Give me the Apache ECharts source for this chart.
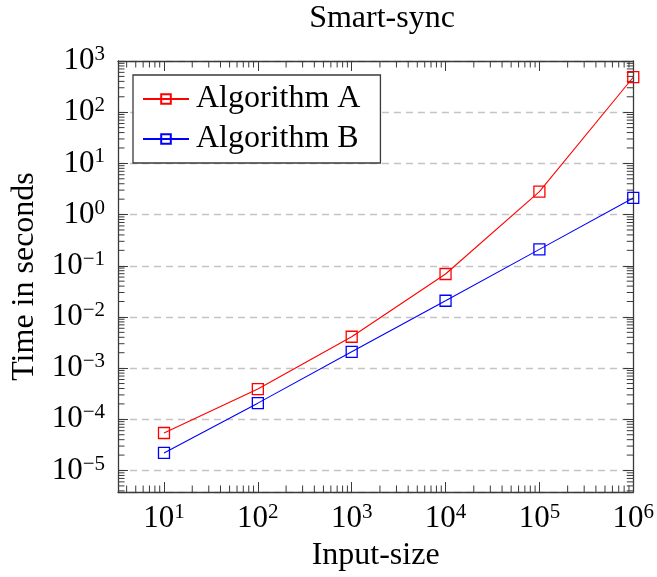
<!DOCTYPE html>
<html>
<head>
<meta charset="utf-8">
<script src="https://cdn.jsdelivr.net/npm/echarts@6/dist/echarts.min.js"></script>
<style>
  html, body { margin: 0; padding: 0; background: #fff; }
  #chart { width: 657px; height: 577px; }
</style>
</head>
<body>
<div id="chart"></div>
<script>
// Input sizes (x) and measured run times in seconds (y)
const inputSizes = [10, 100, 1000, 10000, 100000, 1000000];
const timesA = [5.4e-5, 3.9e-4, 4.1e-3, 0.069, 2.8, 482];
const timesB = [2.2e-5, 2.07e-4, 2.08e-3, 0.0207, 0.209, 2.11];
const seriesNames = ['Algorithm A', 'Algorithm B'];

// Axis extents (log10 space)
const X_MIN = Math.pow(10, 0.51);
const X_MAX = 1e6;
const Y_MIN = Math.pow(10, -5.42);
const Y_MAX = 1e3;

const FONT = 'Liberation Serif';
const AXIS_COLOR = '#3a3a3a';

// 10^n label as rich text with a superscript exponent
function powLabel(v) {
  const e = Math.log10(v);
  const n = Math.round(e);
  if (Math.abs(e - n) > 1e-6) return '';
  const exp = n < 0 ? '\u2212' + (-n) : String(n);
  return '{b|10}{s|' + exp + '}';
}
const labelRich = {
  b: { fontFamily: FONT, fontSize: 31, color: '#000', lineHeight: 34 },
  s: { fontFamily: FONT, fontSize: 21, color: '#000', verticalAlign: 'top', lineHeight: 22 }
};

// Minor tick positions 2..9 × 10^n inside the axis range
function minorTicks(lo, hi) {
  const out = [];
  for (let n = Math.floor(Math.log10(lo)); n <= Math.ceil(Math.log10(hi)); n++) {
    for (let k = 2; k <= 9; k++) {
      const v = k * Math.pow(10, n);
      if (v > lo && v < hi) out.push(v);
    }
  }
  return out;
}
const xMinor = minorTicks(X_MIN, X_MAX);
const yMinor = minorTicks(Y_MIN, Y_MAX);
const MINOR_LEN = 6.5;

const tickStyle = { show: true, inside: true, length: 10, lineStyle: { color: AXIS_COLOR, width: 1 } };
const lineStyleAxis = { show: true, lineStyle: { color: AXIS_COLOR, width: 1.3 } };

const chart = echarts.init(document.getElementById('chart'), null, { renderer: 'canvas' });

const option = {
  animation: false,
  backgroundColor: '#fff',
  title: {
    text: 'Smart-sync',
    left: 377,
    textAlign: 'center',
    top: -2,
    textStyle: { fontFamily: FONT, fontSize: 32, fontWeight: 'normal', color: '#000' }
  },
  legend: {
    data: seriesNames,
    orient: 'vertical',
    left: 133,
    top: 75,
    padding: [8, 20, 8, 9],
    itemWidth: 46,
    itemHeight: 12,
    itemGap: 8,
    backgroundColor: '#fff',
    borderColor: AXIS_COLOR,
    borderWidth: 1.3,
    borderRadius: 0,
    textStyle: { fontFamily: FONT, fontSize: 32, color: '#000', lineHeight: 30, padding: [0, 0, 0, 2] }
  },
  grid: { left: 118, right: 21, top: 61, bottom: 85, containLabel: false },
  xAxis: [
    {
      type: 'log', logBase: 10, min: X_MIN, max: X_MAX,
      name: 'Input-size', nameLocation: 'middle', nameGap: 44,
      nameTextStyle: { fontFamily: FONT, fontSize: 32, color: '#000' },
      axisLine: lineStyleAxis,
      axisTick: tickStyle,
      axisLabel: { formatter: powLabel, rich: labelRich, margin: 10, showMinLabel: true },
      splitLine: { show: false },
      minorTick: { show: false }
    },
    {
      type: 'log', logBase: 10, min: X_MIN, max: X_MAX, position: 'top',
      axisLine: lineStyleAxis, axisTick: tickStyle,
      axisLabel: { show: false }, splitLine: { show: false }
    }
  ],
  yAxis: [
    {
      type: 'log', logBase: 10, min: Y_MIN, max: Y_MAX, splitNumber: 10,
      name: 'Time in seconds', nameLocation: 'middle', nameGap: 76, nameRotate: 90,
      nameTextStyle: { fontFamily: FONT, fontSize: 32, color: '#000' },
      axisLine: lineStyleAxis,
      axisTick: tickStyle,
      axisLabel: { formatter: powLabel, rich: labelRich, margin: 13 },
      splitLine: { show: true, lineStyle: { color: '#c4c4c4', width: 1.3, type: [7, 5] } }
    },
    {
      type: 'log', logBase: 10, min: Y_MIN, max: Y_MAX, splitNumber: 10, position: 'right',
      axisLine: lineStyleAxis, axisTick: tickStyle,
      axisLabel: { show: false }, splitLine: { show: false }
    }
  ],
  series: [
    {
      name: seriesNames[0],
      type: 'line',
      data: inputSizes.map((x, i) => [x, timesA[i]]),
      symbol: 'rect',
      symbolSize: 11,
      showAllSymbol: true,
      lineStyle: { color: '#ff0000', width: 1.1 },
      itemStyle: { color: 'rgba(0,0,0,0)', borderColor: '#ff0000', borderWidth: 1.3 },
      z: 5
    },
    {
      name: seriesNames[1],
      type: 'line',
      data: inputSizes.map((x, i) => [x, timesB[i]]),
      symbol: 'rect',
      symbolSize: 11,
      showAllSymbol: true,
      lineStyle: { color: '#0000ff', width: 1.1 },
      itemStyle: { color: 'rgba(0,0,0,0)', borderColor: '#0000ff', borderWidth: 1.3 },
      z: 5
    },
    {
      // minor ticks on the bottom and top frame edges
      type: 'custom',
      silent: true,
      clip: false,
      z: 3,
      data: xMinor.map(v => [v, Y_MIN]),
      renderItem: function (params, api) {
        const v = api.value(0);
        const pb = api.coord([v, Y_MIN]);
        const pt = api.coord([v, Y_MAX]);
        const st = { stroke: AXIS_COLOR, lineWidth: 1 };
        return {
          type: 'group',
          children: [
            { type: 'line', shape: { x1: pb[0], y1: pb[1], x2: pb[0], y2: pb[1] - MINOR_LEN }, style: st },
            { type: 'line', shape: { x1: pt[0], y1: pt[1], x2: pt[0], y2: pt[1] + MINOR_LEN }, style: st }
          ]
        };
      }
    },
    {
      // minor ticks on the left and right frame edges
      type: 'custom',
      silent: true,
      clip: false,
      z: 3,
      data: yMinor.map(v => [X_MIN, v]),
      renderItem: function (params, api) {
        const v = api.value(1);
        const pl = api.coord([X_MIN, v]);
        const pr = api.coord([X_MAX, v]);
        const st = { stroke: AXIS_COLOR, lineWidth: 1 };
        return {
          type: 'group',
          children: [
            { type: 'line', shape: { x1: pl[0], y1: pl[1], x2: pl[0] + MINOR_LEN, y2: pl[1] }, style: st },
            { type: 'line', shape: { x1: pr[0], y1: pr[1], x2: pr[0] - MINOR_LEN, y2: pr[1] }, style: st }
          ]
        };
      }
    }
  ]
};

chart.setOption(option);
</script>
</body>
</html>
